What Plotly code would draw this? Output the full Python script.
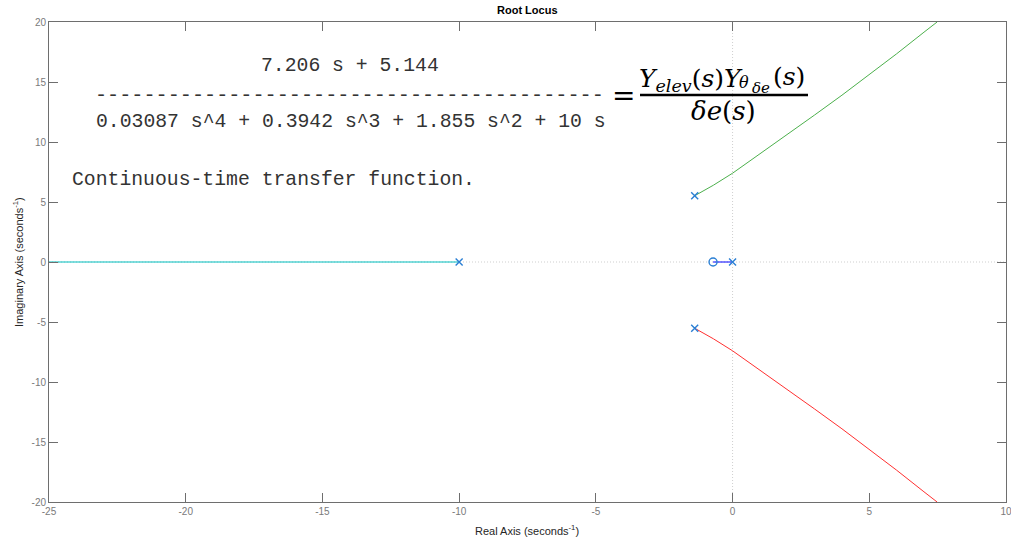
import plotly.graph_objects as go

# ---- data ----
x_ticks = [-25, -20, -15, -10, -5, 0, 5, 10]
x_tick_labels = ["-25", "-20", "-15", "-10", "-5", "0", "5", "10"]
y_ticks = [-20, -15, -10, -5, 0, 5, 10, 15, 20]
y_tick_labels = ["-20", "-15", "-10", "-5", "0", "5", "10", "15", "20"]

pole_re = [0, -10, -1.385, -1.385]
pole_im = [0, 0, 5.52, -5.52]
zero_re = [-0.714]
zero_im = [0]

blue_re = [0, -0.714]
blue_im = [0, 0]
cyan_re = [-10, -25]
cyan_im = [0, 0]
green_re = [-1.385, -0.7, 0, 1, 2, 3, 4, 5, 6, 7, 7.48]
green_im = [5.52, 6.4, 7.4, 9.0, 10.6, 12.25, 13.9, 15.6, 17.35, 19.15, 20.0]
red_re = [-1.385, -0.7, 0, 1, 2, 3, 4, 5, 6, 7, 7.48]
red_im = [-5.52, -6.4, -7.4, -9.0, -10.6, -12.25, -13.9, -15.6, -17.35, -19.15, -20.0]

num_text = "7.206 s + 5.144"
den_text = "0.03087 s^4 + 0.3942 s^3 + 1.855 s^2 + 10 s"
dash_text = "-" * 42
tf_note = "Continuous-time transfer function."

# ---- layout geometry (pixels of the 1011x541 page) ----
W, H = 1011, 541
PL, PR, PT, PB = 49, 1006, 22, 502


def px(xp):
    return (xp - PL) / (PR - PL)


def py(yp):
    return 1 - (yp - PT) / (PB - PT)


MARK = "#2a7fd4"
fig = go.Figure()

# dotted reference lines through the origin
fig.add_shape(type="line", xref="x", yref="paper", x0=0, x1=0, y0=0, y1=1,
              line=dict(color="#cfcfcf", width=1, dash="1px,2px"), layer="below")
fig.add_shape(type="line", xref="paper", yref="y", x0=0, x1=1, y0=0, y1=0,
              line=dict(color="#cfcfcf", width=1, dash="1px,2px"), layer="below")

fig.add_trace(go.Scatter(x=cyan_re, y=cyan_im, mode="lines",
                         line=dict(color="#00bfbf", width=1)))
fig.add_trace(go.Scatter(x=blue_re, y=blue_im, mode="lines",
                         line=dict(color="#0000ff", width=1)))
fig.add_trace(go.Scatter(x=green_re, y=green_im, mode="lines",
                         line=dict(color="#4cb04c", width=1)))
fig.add_trace(go.Scatter(x=red_re, y=red_im, mode="lines",
                         line=dict(color="#ff3030", width=1)))
fig.add_trace(go.Scatter(x=pole_re, y=pole_im, mode="markers",
                         marker=dict(symbol="x-thin-open", size=7, color=MARK,
                                     line=dict(color=MARK, width=1.4))))
fig.add_trace(go.Scatter(x=zero_re, y=zero_im, mode="markers",
                         marker=dict(symbol="circle-open", size=8, color=MARK,
                                     line=dict(color=MARK, width=1.4))))

mono = dict(family="Liberation Mono, Courier New, monospace", size=19.75, color="#333333")
ann = []


def add(text, xp, yp, xa="center", ya="middle", font=None, **kw):
    d = dict(x=px(xp), y=py(yp), xref="paper", yref="paper", text=text, showarrow=False,
             xanchor=xa, yanchor=ya, font=font)
    d.update(kw)
    ann.append(d)


add(num_text, 350, 66, font=mono)
add(dash_text, 93, 95, xa="left",
    font=dict(family="Liberation Mono, Courier New, monospace", size=20.2, color="#333333"))
add(den_text, 93.5, 122, xa="left", font=mono)
add(tf_note, 69.5, 180, xa="left", font=mono)

serif = dict(family="DejaVu Serif, serif", size=25, color="#000000")
add("=", 623, 95, font=dict(family="DejaVu Serif, serif", size=28, color="#000000"))
add("<i>Y</i><sub><i>elev</i></sub>(<i>s</i>)<i>Y</i>", 637, 98, xa="left", ya="bottom", font=serif)
add("<i>θ</i>", 744, 82, font=dict(family="DejaVu Serif, serif", size=16, color="#000000"))
add("<i>δe</i>", 761, 88, font=dict(family="DejaVu Serif, serif", size=15, color="#000000"))
add("(<i>s</i>)", 771, 76, xa="left", font=serif)
add("<i>δe</i>(<i>s</i>)", 723, 111, font=dict(family="DejaVu Serif, serif", size=26, color="#000000"))
fig.add_shape(type="line", xref="paper", yref="paper", x0=px(640), x1=px(808),
              y0=py(95), y1=py(95), line=dict(color="#000000", width=2.5))

lab = dict(family="Liberation Sans, Arial, sans-serif", size=11, color="#262626")
add("Real Axis (seconds<sup>-1</sup>)", 527, 530, font=lab)
add("Imaginary Axis (seconds<sup>-1</sup>)", 18, 262, font=lab, textangle=-90)
add("<b>Root Locus</b>", 527, 10,
    font=dict(family="Liberation Sans, Arial, sans-serif", size=11, color="#000000"))

axis_common = dict(showgrid=False, zeroline=False, showline=True, mirror="ticks",
                   linecolor="#6e6e6e", linewidth=1, ticks="inside", ticklen=9,
                   tickcolor="#6e6e6e", tickwidth=1, ticklabeloverflow="allow",
                   automargin=False,
                   tickfont=dict(family="Liberation Sans, Arial, sans-serif", size=10,
                                 color="#7a7a7a"))

fig.update_layout(
    width=W, height=H,
    margin=dict(l=PL, r=W - PR, t=PT, b=H - PB),
    paper_bgcolor="white", plot_bgcolor="white",
    showlegend=False,
    annotations=ann,
    xaxis=dict(range=[-25, 10], tickvals=x_ticks, ticktext=x_tick_labels, **axis_common),
    yaxis=dict(range=[-20, 20], tickvals=y_ticks, ticktext=y_tick_labels, **axis_common),
)

fig.write_html("out.html")
